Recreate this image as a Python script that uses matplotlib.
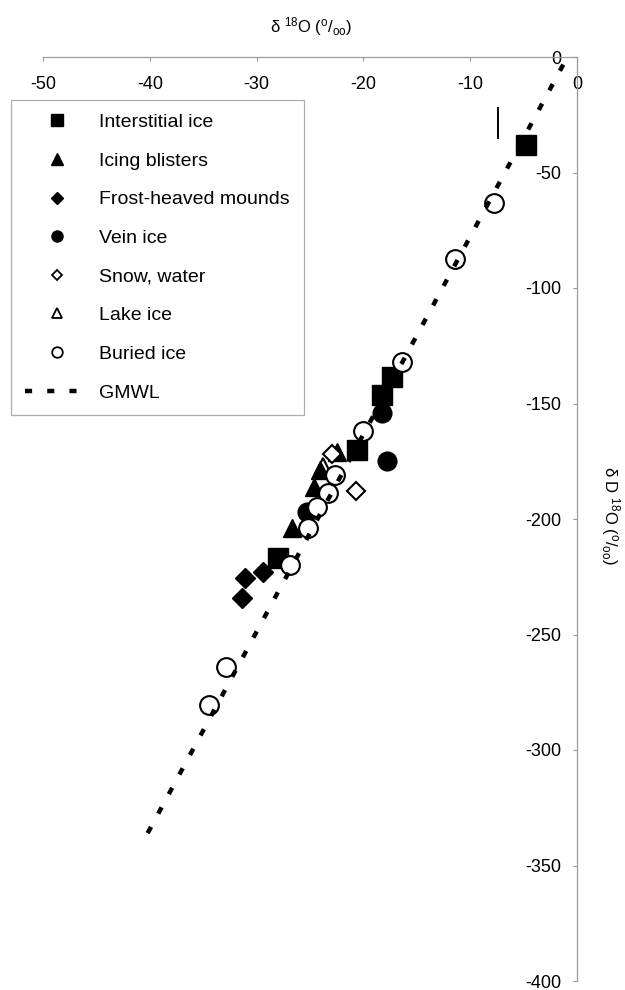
import matplotlib
matplotlib.use("Agg")
import matplotlib.pyplot as plt
from matplotlib.lines import Line2D

plt.rcParams['font.family'] = ['Liberation Sans', 'DejaVu Sans']
plt.rcParams['mathtext.fontset'] = 'custom'
plt.rcParams['mathtext.rm'] = 'Liberation Sans'
plt.rcParams['mathtext.it'] = 'Liberation Sans:italic'
plt.rcParams['mathtext.bf'] = 'Liberation Sans:bold'

# ---- data (delta 18O, delta D) ----
interstitial_x = [-4.8, -17.3, -18.3, -20.6, -28.0]
interstitial_y = [-38, -138.5, -146.5, -170, -217]

blisters_x = [-22.5, -24.1, -24.6, -26.7]
blisters_y = [-171, -179, -186, -204]

mounds_x = [-29.4, -31.1, -31.4]
mounds_y = [-223, -225.5, -234]

vein_x = [-18.3, -17.8, -25.3]
vein_y = [-154, -175, -197]

snow_x = [-22.9, -20.7]
snow_y = [-172, -188]

lake_x = [-23.8]
lake_y = [-178]

buried_x = [-7.8, -11.4, -16.4, -20.0, -22.7, -23.3, -24.3, -25.2, -26.9, -32.9, -34.5]
buried_y = [-63.2, -87.4, -132, -162, -181, -188.7, -195, -204, -220, -264, -280.5]

gmwl_x = [-40.2, -1.1]
gmwl_y = [-336, -1.7]

bar_x = [-7.4, -7.4]
bar_y = [-22, -35]

xticks = [-50, -40, -30, -20, -10, 0]
yticks = [0, -50, -100, -150, -200, -250, -300, -350, -400]

labels = ['Interstitial ice', 'Icing blisters', 'Frost-heaved mounds', 'Vein ice',
          'Snow, water', 'Lake ice', 'Buried ice', 'GMWL']

# ---- figure ----
fig = plt.figure(figsize=(6.25, 9.9), dpi=100)
ax = fig.add_axes([43/625, 1-981/990, (577-43)/625, (981-57)/990])
ax.set_xlim(-50, 0)
ax.set_ylim(-400, 0)

ax.spines['top'].set_visible(False)
ax.spines['right'].set_visible(False)
ax.spines['bottom'].set_position(('axes', 1.0))
ax.spines['left'].set_position(('axes', 1.0))
for s in ('bottom', 'left'):
    ax.spines[s].set_color('#9a9a9a')
    ax.spines[s].set_linewidth(0.9)

ax.set_xticks(xticks)
ax.set_xticklabels([str(v) for v in xticks])
ax.set_yticks(yticks)
ax.set_yticklabels([str(v) for v in yticks])
ax.tick_params(axis='x', direction='out', length=3, width=0.8, color='#9a9a9a',
               pad=11, labelsize=13)
ax.tick_params(axis='y', direction='out', length=3, width=0.8, color='#9a9a9a',
               pad=8, labelsize=13)

ax.plot(lake_x, lake_y, ls='none', marker='^', ms=14, mfc='white', mec='black', mew=1.5, zorder=2)
ax.plot(interstitial_x, interstitial_y, ls='none', marker='s', ms=14.5, color='black', zorder=3)
ax.plot(blisters_x, blisters_y, ls='none', marker='^', ms=13.5, color='black', zorder=3)
ax.plot(mounds_x, mounds_y, ls='none', marker='D', ms=10, color='black', zorder=3)
ax.plot(vein_x, vein_y, ls='none', marker='o', ms=13.5, color='black', zorder=3)
ax.plot(snow_x, snow_y, ls='none', marker='D', ms=9.5, mfc='white', mec='black', mew=1.5, zorder=4)
ax.plot(buried_x, buried_y, ls='none', marker='o', ms=13.5, mfc='white', mec='black', mew=1.5, zorder=4)
ax.plot(gmwl_x, gmwl_y, color='black', lw=3.2, ls=(0, (1.6, 3.4)), dash_capstyle='butt', zorder=5)
ax.plot(bar_x, bar_y, color='black', lw=1.4, zorder=5)

# axis titles
fig.text(311/625, 1-27/990, r'δ $^{18}$O ($^{\mathrm{o}}$/$_{\mathrm{oo}}$)', ha='center', va='center',
         fontsize=12)
fig.text(610/625, 1-515/990, r'δ D $^{18}$O ($^{\mathrm{o}}$/$_{\mathrm{oo}}$)', ha='center', va='center',
         rotation=270, fontsize=12)

# legend
lms = 8
handles = [
    Line2D([], [], ls='none', marker='s', ms=lms, color='black'),
    Line2D([], [], ls='none', marker='^', ms=lms, color='black'),
    Line2D([], [], ls='none', marker='D', ms=lms*0.72, color='black'),
    Line2D([], [], ls='none', marker='o', ms=lms, color='black'),
    Line2D([], [], ls='none', marker='D', ms=lms*0.68, mfc='white', mec='black', mew=1.3),
    Line2D([], [], ls='none', marker='^', ms=lms*0.95, mfc='white', mec='black', mew=1.3),
    Line2D([], [], ls='none', marker='o', ms=lms*0.95, mfc='white', mec='black', mew=1.3),
    Line2D([], [], color='black', lw=3.2, ls=(0, (1.6, 3.4)), dash_capstyle='butt'),
]
leg = fig.legend(handles, labels, loc='upper left', bbox_to_anchor=(11/625, 1-100/990),
                 frameon=True, fancybox=False, shadow=False, fontsize=14,
                 handlelength=3.3, handletextpad=0.55, labelspacing=1.08,
                 borderpad=0.7, borderaxespad=0)
leg.get_frame().set_edgecolor('#9a9a9a')
leg.get_frame().set_linewidth(0.9)

fig.savefig('out.png', dpi=100)
